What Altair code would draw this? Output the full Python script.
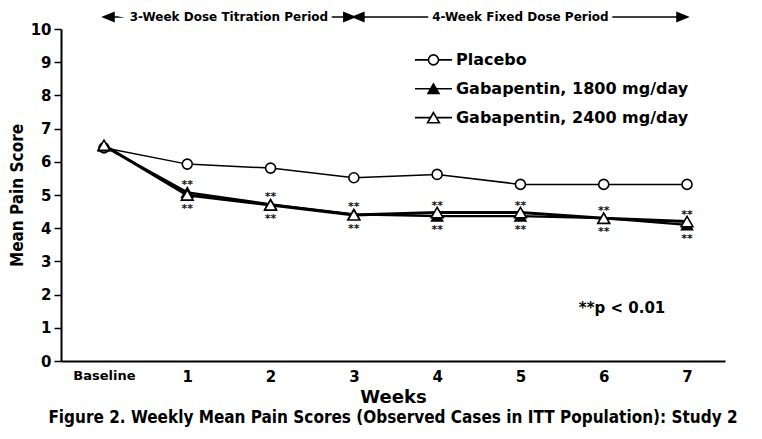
import altair as alt
import pandas as pd

# ---------------- data ----------------
weeks = [0, 1, 2, 3, 4, 5, 6, 7]
week_labels = ["Baseline", "1", "2", "3", "4", "5", "6", "7"]
y_ticks = [0, 1, 2, 3, 4, 5, 6, 7, 8, 9, 10]
series_names = ["Placebo", "Gabapentin, 1800 mg/day", "Gabapentin, 2400 mg/day"]
placebo = [6.42, 5.93, 5.81, 5.52, 5.62, 5.32, 5.32, 5.32]
gaba1800 = [6.47, 5.08, 4.72, 4.42, 4.36, 4.36, 4.30, 4.10]
gaba2400 = [6.50, 5.00, 4.70, 4.40, 4.47, 4.47, 4.30, 4.20]
star_weeks = [1, 2, 3, 4, 5, 6, 7]
star_text = "**"
period_labels = ["3-Week Dose Titration Period", "4-Week Fixed Dose Period"]
period_start = [0, 3]
period_end = [3, 7]
footnote = "**p < 0.01"
caption = "Figure 2. Weekly Mean Pain Scores (Observed Cases in ITT Population): Study 2"

# ---------------- tables ----------------
rows = []
for name, vals in zip(series_names, [placebo, gaba1800, gaba2400]):
    for w, v in zip(weeks, vals):
        rows.append({"week": w, "series": name, "score": v})
df = pd.DataFrame(rows)

stars = pd.DataFrame({
    "week": star_weeks,
    "upper": [max(gaba1800[w], gaba2400[w]) for w in star_weeks],
    "lower": [min(gaba1800[w], gaba2400[w]) for w in star_weeks],
    "txt": [star_text] * len(star_weeks),
})
ANN_Y = 10.36
periods = pd.DataFrame({
    "label": period_labels,
    "start": period_start,
    "end": period_end,
    "mid": [(s + e) / 2 for s, e in zip(period_start, period_end)],
    "y": [ANN_Y] * len(period_labels),
})
note = pd.DataFrame({"txt": [footnote], "x": [6.22], "y": [1.6]})

# legend table (placed in data units in the upper right of the plot)
legend_df = pd.DataFrame({
    "series": series_names,
    "y": [9.07 - 0.87 * i for i in range(len(series_names))],
    "xl": [3.734] * 3, "xr": [4.178] * 3, "xc": [3.956] * 3, "xt": [4.226] * 3,
})

FONT = "DejaVu Sans"
COND = "DejaVu Sans Condensed, Liberation Sans, sans-serif"

label_expr = "[" + ",".join("'" + l + "'" for l in week_labels) + "][datum.value]"

x_scale = alt.Scale(domain=[-0.516, 7.456], nice=False, zero=False)
y_scale = alt.Scale(domain=[0, 10], nice=False, zero=True)
x_axis = alt.Axis(
    values=weeks, labelExpr=label_expr, ticks=False, grid=False,
    domainColor="black", domainWidth=2,
    labelFont=FONT, labelFontWeight="bold", labelColor="black",
    labelFontSize={"condition": {"test": "datum.value == 0", "value": 13}, "value": 15},
    labelPadding=8,
    title="Weeks", titleFont=FONT, titleFontSize=18, titleFontWeight="bold",
    titleColor="black", titlePadding=4,
)
y_axis = alt.Axis(
    values=y_ticks, grid=False, tickSize=7, tickWidth=1.5,
    tickColor="black", domainColor="black", domainWidth=2,
    labelOverlap=False,
    labelFont=FONT, labelFontWeight="bold", labelFontSize=15,
    labelColor="black", labelPadding=3,
    title="Mean Pain Score", titleFont=COND, titleFontSize=17,
    titleFontWeight="bold", titleColor="black", titlePadding=4,
)

def X(field):
    return alt.X(field, scale=x_scale, axis=None)

def Y(field):
    return alt.Y(field, scale=y_scale, axis=None)

shape_scale = alt.Scale(domain=series_names, range=["circle", "triangle-up", "triangle-up"])
fill_scale = alt.Scale(domain=series_names, range=["white", "black", "white"])
size_scale = alt.Scale(domain=series_names, range=[100, 140, 140])

lines = alt.Chart(df).mark_line(color="black").encode(
    x=alt.X("week:Q", scale=x_scale, axis=x_axis),
    y=alt.Y("score:Q", scale=y_scale, axis=y_axis),
    detail="series:N",
    strokeWidth=alt.StrokeWidth("series:N", scale=alt.Scale(domain=series_names, range=[1.5, 3, 2]), legend=None),
)

points = alt.Chart(df).mark_point(filled=True, stroke="black", strokeWidth=1.6, opacity=1).encode(
    x=X("week:Q"), y=Y("score:Q"),
    shape=alt.Shape("series:N", scale=shape_scale, legend=None),
    fill=alt.Fill("series:N", scale=fill_scale, legend=None),
    size=alt.Size("series:N", scale=size_scale, legend=None),
)

leg_rule = alt.Chart(legend_df).mark_rule(color="black", strokeWidth=1.6).encode(
    x=X("xl:Q"), x2="xr:Q", y=Y("y:Q"))
leg_pts = alt.Chart(legend_df).mark_point(filled=True, stroke="black", strokeWidth=1.6, opacity=1).encode(
    x=X("xc:Q"), y=Y("y:Q"),
    shape=alt.Shape("series:N", scale=shape_scale, legend=None),
    fill=alt.Fill("series:N", scale=fill_scale, legend=None),
    size=alt.Size("series:N", scale=size_scale, legend=None),
)
leg_txt = alt.Chart(legend_df).mark_text(
    font=FONT, fontSize=16, fontWeight="bold", color="black", align="left", baseline="middle"
).encode(x=X("xt:Q"), y=Y("y:Q"), text="series:N")

star_up = alt.Chart(stars).mark_text(font=FONT, fontSize=11, fontWeight="bold", color="#111",
                                     baseline="alphabetic", dy=-4).encode(
    x=X("week:Q"), y=Y("upper:Q"), text="txt:N")
star_dn = alt.Chart(stars).mark_text(font=FONT, fontSize=11, fontWeight="bold", color="#111",
                                     baseline="alphabetic", dy=17).encode(
    x=X("week:Q"), y=Y("lower:Q"), text="txt:N")

per_rule = alt.Chart(periods).mark_rule(color="black", strokeWidth=1.5).encode(
    x=X("start:Q"), x2="end:Q", y=Y("y:Q"))
left_head = alt.Chart(periods).mark_point(
    shape="M0,0L1.6,-0.65L1.6,0.65Z", filled=True, fill="black", stroke="black", size=150, opacity=1
).encode(x=X("start:Q"), y=Y("y:Q"))
right_head = alt.Chart(periods).mark_point(
    shape="M0,0L-1.6,-0.65L-1.6,0.65Z", filled=True, fill="black", stroke="black", size=150, opacity=1
).encode(x=X("end:Q"), y=Y("y:Q"))
per_halo = alt.Chart(periods).mark_text(
    font=FONT, fontSize=12, fontWeight="bold", stroke="white", strokeWidth=9, color="white", baseline="middle"
).encode(x=X("mid:Q"), y=Y("y:Q"), text="label:N")
per_text = alt.Chart(periods).mark_text(
    font=FONT, fontSize=12, fontWeight="bold", color="black", baseline="middle"
).encode(x=X("mid:Q"), y=Y("y:Q"), text="label:N")

note_text = alt.Chart(note).mark_text(
    font=FONT, fontSize=15, fontWeight="bold", color="black", baseline="middle"
).encode(x=X("x:Q"), y=Y("y:Q"), text="txt:N")

chart = alt.layer(
    lines, points, leg_rule, leg_pts, leg_txt, star_up, star_dn,
    per_rule, per_halo, per_text, left_head, right_head, note_text,
).resolve_axis(
    x="independent", y="independent"
).properties(
    width=664, height=332,
    autosize=alt.AutoSizeParams(type="none"),
    padding={"left": 53, "top": 21, "right": 29, "bottom": 70},
    background="white",
    title=alt.TitleParams(
        text=caption, orient="bottom", anchor="middle", font=COND,
        fontSize=17, fontWeight="bold", color="black", offset=4,
    ),
).configure_view(stroke=None)

chart.save("out.html", embed_options={"renderer": "svg", "actions": False})
